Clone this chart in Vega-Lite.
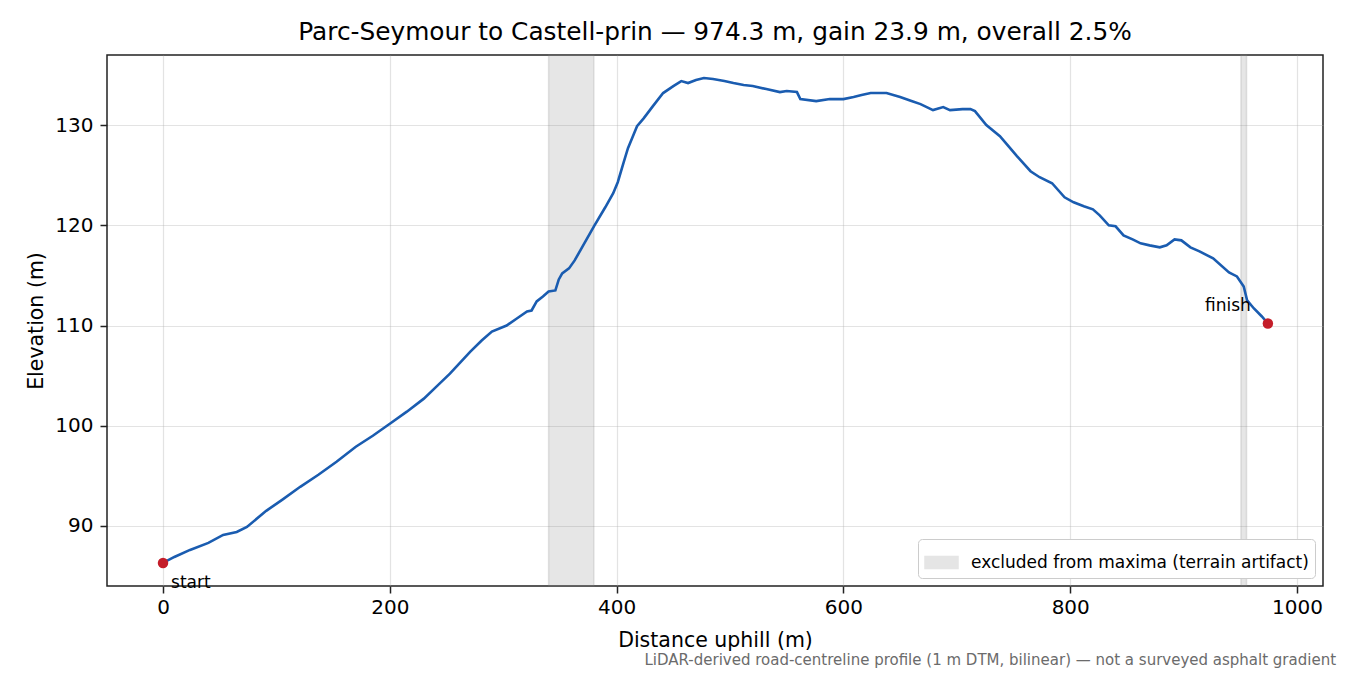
{
  "$schema": "https://vega.github.io/schema/vega-lite/v6.json",
  "width": 1216,
  "height": 531,
  "autosize": {"type": "none"},
  "padding": {"left": 107, "top": 55, "right": 27, "bottom": 89},
  "background": "white",
  "title": {
    "text": "Parc-Seymour to Castell-prin — 974.3 m, gain 23.9 m, overall 2.5%",
    "fontSize": 24.8,
    "fontWeight": "normal",
    "color": "#000000",
    "anchor": "middle",
    "offset": 9
  },
  "datasets": {
    "profile": [
      {"d": 0, "e": 86.3}, {"d": 10, "e": 86.9}, {"d": 23.8, "e": 87.6}, {"d": 40, "e": 88.3},
      {"d": 53, "e": 89.1}, {"d": 65, "e": 89.4}, {"d": 74, "e": 89.9}, {"d": 91, "e": 91.5},
      {"d": 105, "e": 92.6}, {"d": 121, "e": 93.9}, {"d": 137, "e": 95.1}, {"d": 153, "e": 96.4},
      {"d": 170, "e": 97.9}, {"d": 185, "e": 99.0}, {"d": 200, "e": 100.2}, {"d": 215, "e": 101.4},
      {"d": 230, "e": 102.7}, {"d": 242, "e": 104.0}, {"d": 253, "e": 105.2}, {"d": 262, "e": 106.3},
      {"d": 271, "e": 107.4}, {"d": 281, "e": 108.5}, {"d": 290, "e": 109.4}, {"d": 303, "e": 110.0},
      {"d": 312, "e": 110.7}, {"d": 321, "e": 111.4}, {"d": 325, "e": 111.5}, {"d": 329.5, "e": 112.4},
      {"d": 335, "e": 112.9}, {"d": 340, "e": 113.4}, {"d": 346, "e": 113.5}, {"d": 349, "e": 114.6},
      {"d": 352, "e": 115.2}, {"d": 358, "e": 115.7}, {"d": 363, "e": 116.5}, {"d": 370, "e": 117.9},
      {"d": 380, "e": 119.9}, {"d": 390, "e": 121.8}, {"d": 397, "e": 123.2}, {"d": 401, "e": 124.3},
      {"d": 406, "e": 126.2}, {"d": 410, "e": 127.7}, {"d": 414, "e": 128.8}, {"d": 418, "e": 129.9},
      {"d": 424, "e": 130.7}, {"d": 432, "e": 131.9}, {"d": 441, "e": 133.2}, {"d": 450, "e": 133.9},
      {"d": 457, "e": 134.4}, {"d": 463, "e": 134.2}, {"d": 470, "e": 134.5}, {"d": 477, "e": 134.7},
      {"d": 485, "e": 134.6}, {"d": 495, "e": 134.4}, {"d": 503, "e": 134.2}, {"d": 512, "e": 134.0},
      {"d": 520, "e": 133.9}, {"d": 532, "e": 133.6}, {"d": 544, "e": 133.3}, {"d": 550, "e": 133.4},
      {"d": 559, "e": 133.3}, {"d": 562, "e": 132.6}, {"d": 576, "e": 132.4}, {"d": 588, "e": 132.6},
      {"d": 600, "e": 132.6}, {"d": 609, "e": 132.8}, {"d": 616, "e": 133.0}, {"d": 624, "e": 133.2},
      {"d": 638, "e": 133.2}, {"d": 650, "e": 132.8}, {"d": 660, "e": 132.4}, {"d": 668, "e": 132.1},
      {"d": 679, "e": 131.5}, {"d": 688, "e": 131.8}, {"d": 694, "e": 131.5}, {"d": 705, "e": 131.6},
      {"d": 712, "e": 131.6}, {"d": 716, "e": 131.4}, {"d": 726, "e": 130.0}, {"d": 738, "e": 128.9},
      {"d": 744, "e": 128.1}, {"d": 753, "e": 126.9}, {"d": 765, "e": 125.4}, {"d": 773, "e": 124.8},
      {"d": 784, "e": 124.2}, {"d": 795, "e": 122.8}, {"d": 803, "e": 122.3}, {"d": 812, "e": 121.9},
      {"d": 820, "e": 121.6}, {"d": 826, "e": 121.0}, {"d": 834, "e": 120.0}, {"d": 840, "e": 119.9},
      {"d": 847, "e": 119.0}, {"d": 855, "e": 118.6}, {"d": 862, "e": 118.2}, {"d": 870, "e": 118.0},
      {"d": 879, "e": 117.8}, {"d": 885, "e": 118.0}, {"d": 892, "e": 118.6}, {"d": 898, "e": 118.5},
      {"d": 906, "e": 117.8}, {"d": 914, "e": 117.4}, {"d": 926, "e": 116.7}, {"d": 940, "e": 115.3},
      {"d": 947, "e": 114.9}, {"d": 953, "e": 113.9}, {"d": 956, "e": 112.5}, {"d": 962, "e": 111.7},
      {"d": 969, "e": 110.9}, {"d": 974.3, "e": 110.2}
    ],
    "bands": [
      {"start": 340, "end": 380, "label": "excluded from maxima (terrain artifact)"},
      {"start": 950.5, "end": 955.5, "label": "excluded from maxima (terrain artifact)"}
    ],
    "ends": [
      {"d": 0, "e": 86.3, "label": "start"},
      {"d": 974.3, "e": 110.2, "label": "finish"}
    ],
    "note": [
      {"d": 1034.4, "e": 76.6, "text": "LiDAR-derived road-centreline profile (1 m DTM, bilinear) — not a surveyed asphalt gradient"}
    ]
  },
  "layer": [
    {
      "data": {"name": "bands"},
      "mark": {"type": "rect", "fillOpacity": 0.2, "strokeOpacity": 0.2, "stroke": "#808080", "strokeWidth": 1.5},
      "encoding": {
        "x": {
          "field": "start", "type": "quantitative",
          "scale": {"domain": [-49.4, 1022.9], "nice": false, "zero": false},
          "axis": {"values": [0, 200, 400, 600, 800, 1000], "title": "Distance uphill (m)", "format": "d", "titlePadding": 13}
        },
        "x2": {"field": "end"},
        "color": {
          "field": "label", "type": "nominal",
          "scale": {"domain": ["excluded from maxima (terrain artifact)"], "range": ["#808080"]},
          "legend": {
            "title": null,
            "orient": "bottom-right",
            "offset": 8,
            "symbolType": "M-1,-0.36H1V0.36H-1Z",
            "symbolSize": 1089,
            "symbolOpacity": 0.2,
            "symbolStrokeColor": "#808080",
            "symbolStrokeWidth": 1.5,
            "labelFontSize": 17,
            "labelLimit": 0,
            "labelColor": "#000000",
            "labelOffset": 12,
            "padding": 6,
            "strokeColor": "#cccccc",
            "fillColor": "#ffffff",
            "cornerRadius": 4
          }
        }
      }
    },
    {
      "data": {"name": "profile"},
      "mark": {"type": "line", "color": "#1a5cb0", "strokeWidth": 2.6},
      "encoding": {
        "x": {"field": "d", "type": "quantitative"},
        "y": {
          "field": "e", "type": "quantitative",
          "scale": {"domain": [84.0, 137.0], "nice": false, "zero": false},
          "axis": {"values": [90, 100, 110, 120, 130], "title": "Elevation (m)"}
        }
      }
    },
    {
      "data": {"name": "ends"},
      "mark": {"type": "point", "filled": true, "opacity": 1, "color": "#c41d29", "size": 110},
      "encoding": {
        "x": {"field": "d", "type": "quantitative"},
        "y": {"field": "e", "type": "quantitative"}
      }
    },
    {
      "data": {"name": "ends"},
      "transform": [{"filter": "datum.label === 'start'"}],
      "mark": {"type": "text", "align": "left", "baseline": "middle", "dx": 8, "dy": 20, "fontSize": 17, "color": "#000000"},
      "encoding": {
        "x": {"field": "d", "type": "quantitative"},
        "y": {"field": "e", "type": "quantitative"},
        "text": {"field": "label"}
      }
    },
    {
      "data": {"name": "ends"},
      "transform": [{"filter": "datum.label === 'finish'"}],
      "mark": {"type": "text", "align": "right", "baseline": "middle", "dx": -17, "dy": -18, "fontSize": 17, "color": "#000000"},
      "encoding": {
        "x": {"field": "d", "type": "quantitative"},
        "y": {"field": "e", "type": "quantitative"},
        "text": {"field": "label"}
      }
    },
    {
      "data": {"name": "note"},
      "mark": {"type": "text", "align": "right", "baseline": "middle", "fontSize": 15, "color": "#6b6b6b", "clip": false},
      "encoding": {
        "x": {"field": "d", "type": "quantitative"},
        "y": {"field": "e", "type": "quantitative"},
        "text": {"field": "text"}
      }
    }
  ],
  "config": {
    "font": "DejaVu Sans",
    "view": {"stroke": "#222222", "strokeWidth": 1.5},
    "axis": {
      "domain": false,
      "grid": true,
      "gridColor": "#b0b0b0",
      "gridOpacity": 0.35,
      "gridWidth": 1.2,
      "ticks": true,
      "tickColor": "#222222",
      "tickWidth": 1.5,
      "tickSize": 7,
      "labelFontSize": 20,
      "labelColor": "#000000",
      "labelPadding": 4,
      "titleFontSize": 20.5,
      "titleFontWeight": "normal",
      "titleColor": "#000000",
      "titlePadding": 8
    },
    "axisY": {"labelPadding": 7, "titlePadding": 8}
  }
}
